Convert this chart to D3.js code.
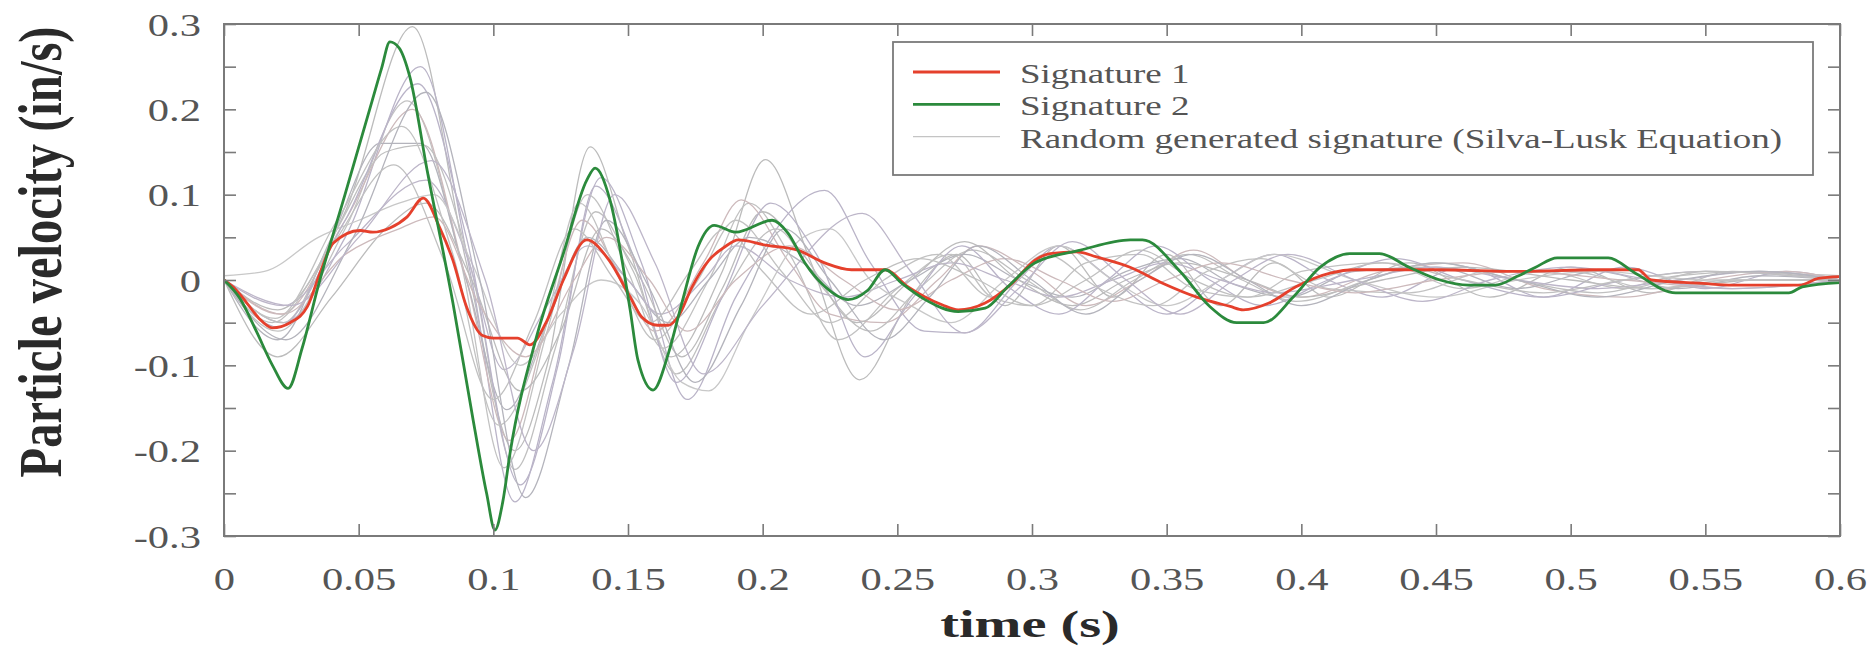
<!DOCTYPE html>
<html>
<head>
<meta charset="utf-8">
<script src="https://cdn.jsdelivr.net/npm/d3@7"></script>
<style>
  html, body { margin: 0; padding: 0; background: #ffffff; }
  svg { display: block; }
  text { font-family: "Liberation Serif", "Times New Roman", serif; }
</style>
</head>
<body>
<svg id="chart" width="1875" height="651"></svg>
<script>
// ---------------- DATA ----------------
const xTickValues = [0, 0.05, 0.1, 0.15, 0.2, 0.25, 0.3, 0.35, 0.4, 0.45, 0.5, 0.55, 0.6];
const xTickLabels = ["0", "0.05", "0.1", "0.15", "0.2", "0.25", "0.3", "0.35", "0.4", "0.45", "0.5", "0.55", "0.6"];
const yTickValues = [-0.3, -0.25, -0.2, -0.15, -0.1, -0.05, 0, 0.05, 0.1, 0.15, 0.2, 0.25, 0.3];
const yLabelValues = [-0.3, -0.2, -0.1, 0, 0.1, 0.2, 0.3];
const yLabelTexts = ["-0.3", "-0.2", "-0.1", "0", "0.1", "0.2", "0.3"];

const seriesNames = ["Signature 1", "Signature 2", "Random generated signature (Silva-Lusk Equation)"];
const xTitle = "time (s)";
const yTitle = "Particle velocity (in/s)";

// Signature 1 (red)
const sig1T = [0, 0.004, 0.0085, 0.013, 0.018, 0.0245, 0.031, 0.0356, 0.0405, 0.0505, 0.0553, 0.0616, 0.068, 0.074,
  0.080, 0.085, 0.090, 0.096, 0.100, 0.109, 0.1136, 0.12, 0.126, 0.1347, 0.143, 0.1508, 0.155, 0.161, 0.165, 0.1686,
  0.1738, 0.18, 0.186, 0.191, 0.201, 0.213, 0.223, 0.233, 0.2455, 0.254, 0.2666, 0.2726, 0.2826, 0.2926, 0.301,
  0.3067, 0.3167, 0.324, 0.3364, 0.3487, 0.3612, 0.3736, 0.3784, 0.388, 0.398, 0.4107, 0.42, 0.45, 0.48, 0.51,
  0.525, 0.530, 0.549, 0.56, 0.585, 0.592, 0.6];
const sig1V = [0, -0.01, -0.027, -0.045, -0.056, -0.05, -0.031, 0.008, 0.043, 0.058, 0.056, 0.061, 0.074, 0.096,
  0.062, 0.023, -0.031, -0.065, -0.068, -0.068, -0.076, -0.047, 0.0, 0.047, 0.023, -0.02, -0.043, -0.053, -0.053, -0.043,
  -0.008, 0.023, 0.039, 0.047, 0.041, 0.035, 0.020, 0.012, 0.012, -0.008, -0.029, -0.035, -0.027, -0.004, 0.023,
  0.031, 0.033, 0.027, 0.015, -0.004, -0.02, -0.031, -0.035, -0.027, -0.008, 0.008, 0.012, 0.012, 0.010, 0.012,
  0.012, 0.0, -0.004, -0.006, -0.006, 0.002, 0.004];

// Signature 2 (green)
const sig2T = [0, 0.006, 0.012, 0.018, 0.0238, 0.029, 0.035, 0.045, 0.055, 0.0585, 0.0616, 0.065, 0.069, 0.0754, 0.085, 0.0925,
  0.0975, 0.1006, 0.1035, 0.1062, 0.116, 0.126, 0.1347, 0.1378, 0.1433, 0.1508, 0.1537, 0.1593, 0.165, 0.170, 0.176, 0.182, 0.19,
  0.2035, 0.2094, 0.2157, 0.2232, 0.2317, 0.239, 0.2455, 0.2517, 0.2603, 0.2726, 0.2826, 0.291, 0.301, 0.318, 0.3365,
  0.341, 0.355, 0.366, 0.376, 0.386, 0.397, 0.407, 0.418, 0.429, 0.44, 0.4515, 0.462, 0.472, 0.48, 0.487, 0.495,
  0.514, 0.524, 0.539, 0.581, 0.586, 0.6];
const sig2V = [0, -0.022, -0.06, -0.1, -0.127, -0.08, -0.007, 0.101, 0.21, 0.248, 0.279, 0.272, 0.238, 0.129, -0.027, -0.164,
  -0.25, -0.293, -0.26, -0.203, -0.067, 0.031, 0.117, 0.131, 0.094, -0.035, -0.094, -0.129, -0.086, -0.027, 0.039, 0.064, 0.056,
  0.070, 0.055, 0.02, -0.008, -0.023, -0.012, 0.012, -0.004, -0.023, -0.037, -0.033, -0.008, 0.02, 0.035, 0.047,
  0.047, 0.01, -0.031, -0.05, -0.05, -0.02, 0.015, 0.031, 0.031, 0.015, 0.0, -0.006, -0.006, 0.004, 0.015, 0.026,
  0.026, 0.008, -0.015, -0.015, -0.008, -0.003];

// Random generated signatures (grey), [time, velocity]
const random01 = [[0,0],[0.02,-0.035],[0.045,0.08],[0.070,0.297],[0.09,0.02],[0.108,-0.20],[0.12,-0.10],[0.136,0.156],[0.15,0.04],[0.166,-0.09],[0.185,0.01],[0.201,0.141],[0.218,0.02],[0.236,-0.117],[0.255,-0.02],[0.272,0.03],[0.29,-0.03],[0.31,0.04],[0.33,-0.02],[0.35,0.03],[0.37,-0.03],[0.39,0.02],[0.41,-0.02],[0.44,0.02],[0.47,-0.02],[0.50,0.015],[0.53,-0.015],[0.56,0.01],[0.6,0]];
const random02 = [[0,0],[0.022,-0.05],[0.045,0.05],[0.073,0.25],[0.092,0.0],[0.108,-0.26],[0.122,-0.12],[0.14,0.12],[0.155,0.02],[0.172,-0.14],[0.19,-0.02],[0.223,0.105],[0.24,0.02],[0.26,-0.06],[0.275,-0.062],[0.295,0.0],[0.31,0.04],[0.33,0.0],[0.35,-0.04],[0.37,0.0],[0.39,0.03],[0.41,0.0],[0.43,-0.02],[0.46,0.015],[0.49,-0.02],[0.52,0.015],[0.55,-0.01],[0.58,0.01],[0.6,0]];
const random03 = [[0,0],[0.02,-0.06],[0.045,0.06],[0.068,0.21],[0.088,0.02],[0.104,-0.22],[0.12,-0.06],[0.135,0.10],[0.15,0.01],[0.163,-0.08],[0.18,0.0],[0.195,0.09],[0.21,0.03],[0.228,-0.07],[0.25,-0.01],[0.27,0.03],[0.285,-0.02],[0.30,-0.03],[0.32,0.02],[0.34,0.03],[0.36,-0.01],[0.38,-0.02],[0.40,0.01],[0.43,0.02],[0.46,-0.01],[0.49,0.01],[0.52,-0.01],[0.55,0.01],[0.6,0.005]];
const random04 = [[0,0],[0.021,-0.04],[0.045,0.07],[0.07,0.20],[0.09,0.0],[0.106,-0.188],[0.12,-0.05],[0.133,0.07],[0.148,0.0],[0.16,-0.06],[0.178,0.02],[0.192,0.094],[0.21,0.02],[0.225,-0.04],[0.245,-0.05],[0.265,0.0],[0.28,0.04],[0.30,0.01],[0.32,-0.03],[0.34,0.0],[0.36,0.035],[0.38,0.0],[0.40,-0.02],[0.43,0.01],[0.46,0.02],[0.49,-0.01],[0.52,-0.02],[0.55,0.0],[0.58,0.01],[0.6,0]];
const random05 = [[0,0],[0.02,-0.07],[0.04,0.05],[0.058,0.16],[0.073,0.16],[0.09,0.0],[0.105,-0.152],[0.12,-0.05],[0.135,0.05],[0.15,0.0],[0.165,-0.05],[0.18,0.0],[0.195,0.05],[0.215,0.02],[0.235,-0.03],[0.255,0.0],[0.275,0.03],[0.295,0.0],[0.315,-0.02],[0.335,0.01],[0.355,0.025],[0.375,-0.005],[0.395,-0.02],[0.42,0.01],[0.45,0.015],[0.48,-0.01],[0.51,0.01],[0.54,-0.01],[0.57,0.005],[0.6,0]];
const random06 = [[0,0],[0.022,-0.05],[0.042,0.06],[0.06,0.15],[0.074,0.158],[0.092,0.01],[0.108,-0.222],[0.123,-0.08],[0.138,0.08],[0.152,0.01],[0.168,-0.11],[0.185,-0.02],[0.205,0.06],[0.22,0.0],[0.24,-0.06],[0.258,-0.01],[0.278,0.035],[0.298,0.0],[0.318,-0.035],[0.338,0.0],[0.358,0.03],[0.378,0.0],[0.398,-0.025],[0.425,0.0],[0.45,0.02],[0.48,0.0],[0.51,-0.015],[0.54,0.005],[0.57,0.01],[0.6,0]];
const random07 = [[0,0],[0.022,-0.03],[0.045,0.04],[0.075,0.117],[0.09,0.03],[0.104,-0.105],[0.12,-0.03],[0.135,0.04],[0.15,0.0],[0.162,-0.04],[0.178,0.0],[0.19,0.04],[0.21,0.0],[0.23,-0.02],[0.25,0.0],[0.27,0.02],[0.29,0.0],[0.31,-0.02],[0.33,0.0],[0.35,0.02],[0.37,0.0],[0.39,-0.015],[0.42,0.0],[0.45,0.015],[0.48,0.0],[0.51,-0.01],[0.54,0.0],[0.57,0.01],[0.6,0]];
const random08 = [[0,0.005],[0.015,0.01],[0.035,0.05],[0.05,0.07],[0.065,0.09],[0.078,0.10],[0.092,0.02],[0.11,-0.10],[0.125,-0.04],[0.14,0.0],[0.155,-0.03],[0.17,-0.12],[0.18,-0.13],[0.195,-0.05],[0.215,0.05],[0.225,0.06],[0.24,0.0],[0.255,-0.03],[0.27,-0.05],[0.29,0.0],[0.31,0.04],[0.33,0.0],[0.35,-0.03],[0.37,0.0],[0.39,0.03],[0.42,0.0],[0.45,-0.02],[0.48,0.0],[0.51,0.01],[0.55,0.0],[0.6,0]];
const random09 = [[0,0],[0.02,-0.09],[0.04,-0.02],[0.06,0.06],[0.075,0.09],[0.092,0.0],[0.11,-0.13],[0.125,-0.06],[0.14,0.06],[0.155,0.0],[0.17,-0.09],[0.185,-0.01],[0.2,0.08],[0.215,0.03],[0.235,-0.05],[0.255,0.0],[0.275,0.045],[0.295,0.0],[0.315,-0.03],[0.335,0.0],[0.355,0.02],[0.38,0.0],[0.4,-0.02],[0.43,0.0],[0.46,0.015],[0.5,0.0],[0.53,-0.01],[0.57,0.0],[0.6,0]];
const random10 = [[0,0],[0.02,-0.055],[0.045,0.07],[0.072,0.23],[0.09,0.05],[0.11,-0.24],[0.124,-0.10],[0.138,0.11],[0.153,0.02],[0.168,-0.12],[0.185,-0.02],[0.203,0.09],[0.22,0.03],[0.238,-0.09],[0.256,-0.02],[0.274,0.04],[0.292,-0.01],[0.31,-0.04],[0.328,0.0],[0.346,0.04],[0.366,0.0],[0.386,-0.03],[0.41,0.0],[0.435,0.025],[0.46,0.0],[0.49,-0.02],[0.52,0.0],[0.55,0.01],[0.6,0]];
const random11 = [[0,0],[0.019,-0.045],[0.042,0.07],[0.066,0.18],[0.085,0.03],[0.102,-0.17],[0.118,-0.07],[0.132,0.09],[0.147,0.0],[0.16,-0.07],[0.176,0.0],[0.19,0.07],[0.207,0.01],[0.225,-0.05],[0.245,0.0],[0.265,0.03],[0.285,-0.02],[0.305,0.03],[0.325,-0.01],[0.345,-0.03],[0.365,0.01],[0.385,0.025],[0.41,-0.01],[0.44,-0.015],[0.47,0.01],[0.5,0.01],[0.53,-0.01],[0.56,0.0],[0.6,0]];
const random12 = [[0,0],[0.022,-0.04],[0.045,0.03],[0.065,0.06],[0.078,0.074],[0.095,-0.03],[0.112,-0.09],[0.13,0.0],[0.142,0.05],[0.158,0.0],[0.172,-0.06],[0.19,0.0],[0.21,0.04],[0.23,0.0],[0.25,-0.035],[0.27,0.0],[0.29,0.025],[0.31,0.0],[0.33,-0.025],[0.35,0.0],[0.37,0.02],[0.395,0.0],[0.42,-0.015],[0.45,0.0],[0.48,0.01],[0.52,0.0],[0.56,-0.01],[0.6,0]];
const random13 = [[0,0],[0.023,-0.07],[0.048,0.05],[0.075,0.22],[0.095,0.0],[0.112,-0.255],[0.128,-0.1],[0.142,0.07],[0.158,-0.01],[0.175,-0.12],[0.192,-0.03],[0.208,0.06],[0.225,0.0],[0.245,-0.07],[0.262,-0.02],[0.28,0.04],[0.3,0.0],[0.32,-0.04],[0.34,0.0],[0.36,0.03],[0.38,0.0],[0.4,-0.03],[0.425,0.0],[0.45,0.02],[0.48,0.0],[0.51,-0.02],[0.54,0.0],[0.57,0.01],[0.6,0]];
const random14 = [[0,0],[0.018,-0.05],[0.04,0.04],[0.063,0.135],[0.082,0.02],[0.1,-0.14],[0.115,-0.05],[0.13,0.06],[0.145,0.0],[0.158,-0.05],[0.173,0.01],[0.186,0.06],[0.2,0.01],[0.218,-0.04],[0.238,0.0],[0.258,0.025],[0.28,0.0],[0.3,-0.03],[0.32,0.0],[0.34,0.035],[0.36,0.0],[0.38,-0.02],[0.405,0.0],[0.43,0.02],[0.46,0.0],[0.49,-0.015],[0.52,0.0],[0.55,0.01],[0.6,0]];
const random15 = [[0,0],[0.025,-0.03],[0.05,0.05],[0.077,0.14],[0.097,0.0],[0.115,-0.2],[0.13,-0.08],[0.145,0.1],[0.16,0.02],[0.178,-0.11],[0.2,-0.03],[0.237,0.078],[0.255,0.01],[0.275,-0.062],[0.295,-0.01],[0.315,0.045],[0.335,0.0],[0.355,-0.04],[0.375,0.0],[0.395,0.03],[0.42,0.0],[0.445,-0.025],[0.47,0.0],[0.5,0.015],[0.53,0.0],[0.56,-0.01],[0.6,0]];
const randomSeries = [random01, random02, random03, random04, random05, random06, random07, random08,
  random09, random10, random11, random12, random13, random14, random15];

// ---------------- LAYOUT / STYLE ----------------
const W = 1875, H = 651;
const plot = { left: 224, right: 1840, top: 24, bottom: 536 };
const colors = { sig1: "#e5402c", sig2: "#2b8a3c", frame: "#7a7a7a", tickText: "#555555", title: "#2a2a2a" };
const greyPalette = ["#bcbcbc", "#bab4c8", "#c2c2c2", "#cdbabc", "#b4b4bc", "#c0c0c0", "#bdb6c9", "#c8c8c8"];

const svg = d3.select("#chart");
svg.append("rect").attr("width", W).attr("height", H).attr("fill", "#ffffff");

const x = d3.scaleLinear().domain([0, 0.6]).range([plot.left, plot.right]);
const y = d3.scaleLinear().domain([-0.3, 0.3]).range([plot.bottom, plot.top]);

svg.append("defs").append("clipPath").attr("id", "clip")
  .append("rect").attr("x", plot.left).attr("y", plot.top)
  .attr("width", plot.right - plot.left).attr("height", plot.bottom - plot.top);

// ---------------- CURVES ----------------
const curveG = svg.append("g").attr("clip-path", "url(#clip)");

const greyLine = d3.line().x(d => x(d[0])).y(d => y(d[1])).curve(d3.curveMonotoneX);
curveG.selectAll("path.grey").data(randomSeries).join("path")
  .attr("class", "grey")
  .attr("d", greyLine)
  .attr("fill", "none")
  .attr("stroke", (d, i) => greyPalette[i % greyPalette.length])
  .attr("stroke-width", 1.3);

const sigLine = d3.line().x(d => x(d.t)).y(d => y(d.v)).curve(d3.curveMonotoneX);
const sig1 = sig1T.map((t, i) => ({ t, v: sig1V[i] }));
const sig2 = sig2T.map((t, i) => ({ t, v: sig2V[i] }));

curveG.append("path").datum(sig1).attr("d", sigLine)
  .attr("fill", "none").attr("stroke", colors.sig1).attr("stroke-width", 2.8).attr("stroke-linejoin", "round");
curveG.append("path").datum(sig2).attr("d", sigLine)
  .attr("fill", "none").attr("stroke", colors.sig2).attr("stroke-width", 2.8).attr("stroke-linejoin", "round");

// ---------------- AXES ----------------
const tickLen = 12;
const sx = 1.33;
const fmtX = v => xTickLabels[xTickValues.findIndex(t => Math.abs(t - v) < 1e-9)];
const fmtY = v => { const k = yLabelValues.findIndex(t => Math.abs(t - v) < 1e-9); return k >= 0 ? yLabelTexts[k] : ""; };

function styleAxis(g) {
  g.select(".domain").remove();
  g.selectAll(".tick line").attr("stroke", colors.frame).attr("stroke-width", 1.6);
}

const gBottom = svg.append("g").attr("transform", `translate(0,${plot.bottom})`)
  .call(d3.axisBottom(x).tickValues(xTickValues).tickFormat(fmtX).tickSizeInner(-tickLen).tickSizeOuter(0));
styleAxis(gBottom);
gBottom.selectAll(".tick text")
  .attr("y", null).attr("dy", null)
  .attr("transform", `translate(0,54) scale(${sx},1)`)
  .attr("text-anchor", "middle")
  .attr("font-size", 32)
  .attr("fill", colors.tickText);

const gTop = svg.append("g").attr("transform", `translate(0,${plot.top})`)
  .call(d3.axisTop(x).tickValues(xTickValues).tickFormat("").tickSizeInner(-tickLen).tickSizeOuter(0));
styleAxis(gTop);

const gLeft = svg.append("g").attr("transform", `translate(${plot.left},0)`)
  .call(d3.axisLeft(y).tickValues(yTickValues).tickFormat(fmtY).tickSizeInner(-tickLen).tickSizeOuter(0));
styleAxis(gLeft);
gLeft.selectAll(".tick text")
  .attr("x", null).attr("dy", null)
  .attr("transform", `translate(-23,11) scale(${sx},1)`)
  .attr("text-anchor", "end")
  .attr("font-size", 32)
  .attr("fill", colors.tickText);

const gRight = svg.append("g").attr("transform", `translate(${plot.right},0)`)
  .call(d3.axisRight(y).tickValues(yTickValues).tickFormat("").tickSizeInner(-tickLen).tickSizeOuter(0));
styleAxis(gRight);

// frame
svg.append("rect")
  .attr("x", plot.left).attr("y", plot.top)
  .attr("width", plot.right - plot.left).attr("height", plot.bottom - plot.top)
  .attr("fill", "none").attr("stroke", colors.frame).attr("stroke-width", 2);

// ---------------- TITLES ----------------
svg.append("text")
  .attr("transform", `translate(1030,637) scale(1.52,1)`)
  .attr("text-anchor", "middle")
  .attr("font-size", 37).attr("font-weight", "bold")
  .attr("fill", colors.title)
  .text(xTitle);

svg.append("text")
  .attr("transform", `translate(61,252) rotate(-90) scale(1.035,1.31)`)
  .attr("text-anchor", "middle")
  .attr("font-size", 47).attr("font-weight", "bold")
  .attr("fill", colors.title)
  .text(yTitle);

// ---------------- LEGEND ----------------
const legend = { x0: 893, y0: 42, x1: 1813, y1: 175 };
svg.append("rect")
  .attr("x", legend.x0).attr("y", legend.y0)
  .attr("width", legend.x1 - legend.x0).attr("height", legend.y1 - legend.y0)
  .attr("fill", "#ffffff").attr("stroke", colors.frame).attr("stroke-width", 1.8);

const legendItems = [
  { name: seriesNames[0], color: colors.sig1, width: 2.8 },
  { name: seriesNames[1], color: colors.sig2, width: 2.8 },
  { name: seriesNames[2], color: "#c4c4c4", width: 1.3 }
];
const lg = svg.selectAll("g.legend-item").data(legendItems).join("g")
  .attr("class", "legend-item")
  .attr("transform", (d, i) => `translate(0,${83 + i * 32.3})`);
lg.append("line")
  .attr("x1", 913).attr("x2", 1000).attr("y1", -11).attr("y2", -11)
  .attr("stroke", d => d.color).attr("stroke-width", d => d.width);
lg.append("text")
  .attr("transform", "translate(1020,0) scale(1.37,1)")
  .attr("font-size", 27)
  .attr("fill", "#555555")
  .text(d => d.name);
</script>
</body>
</html>
